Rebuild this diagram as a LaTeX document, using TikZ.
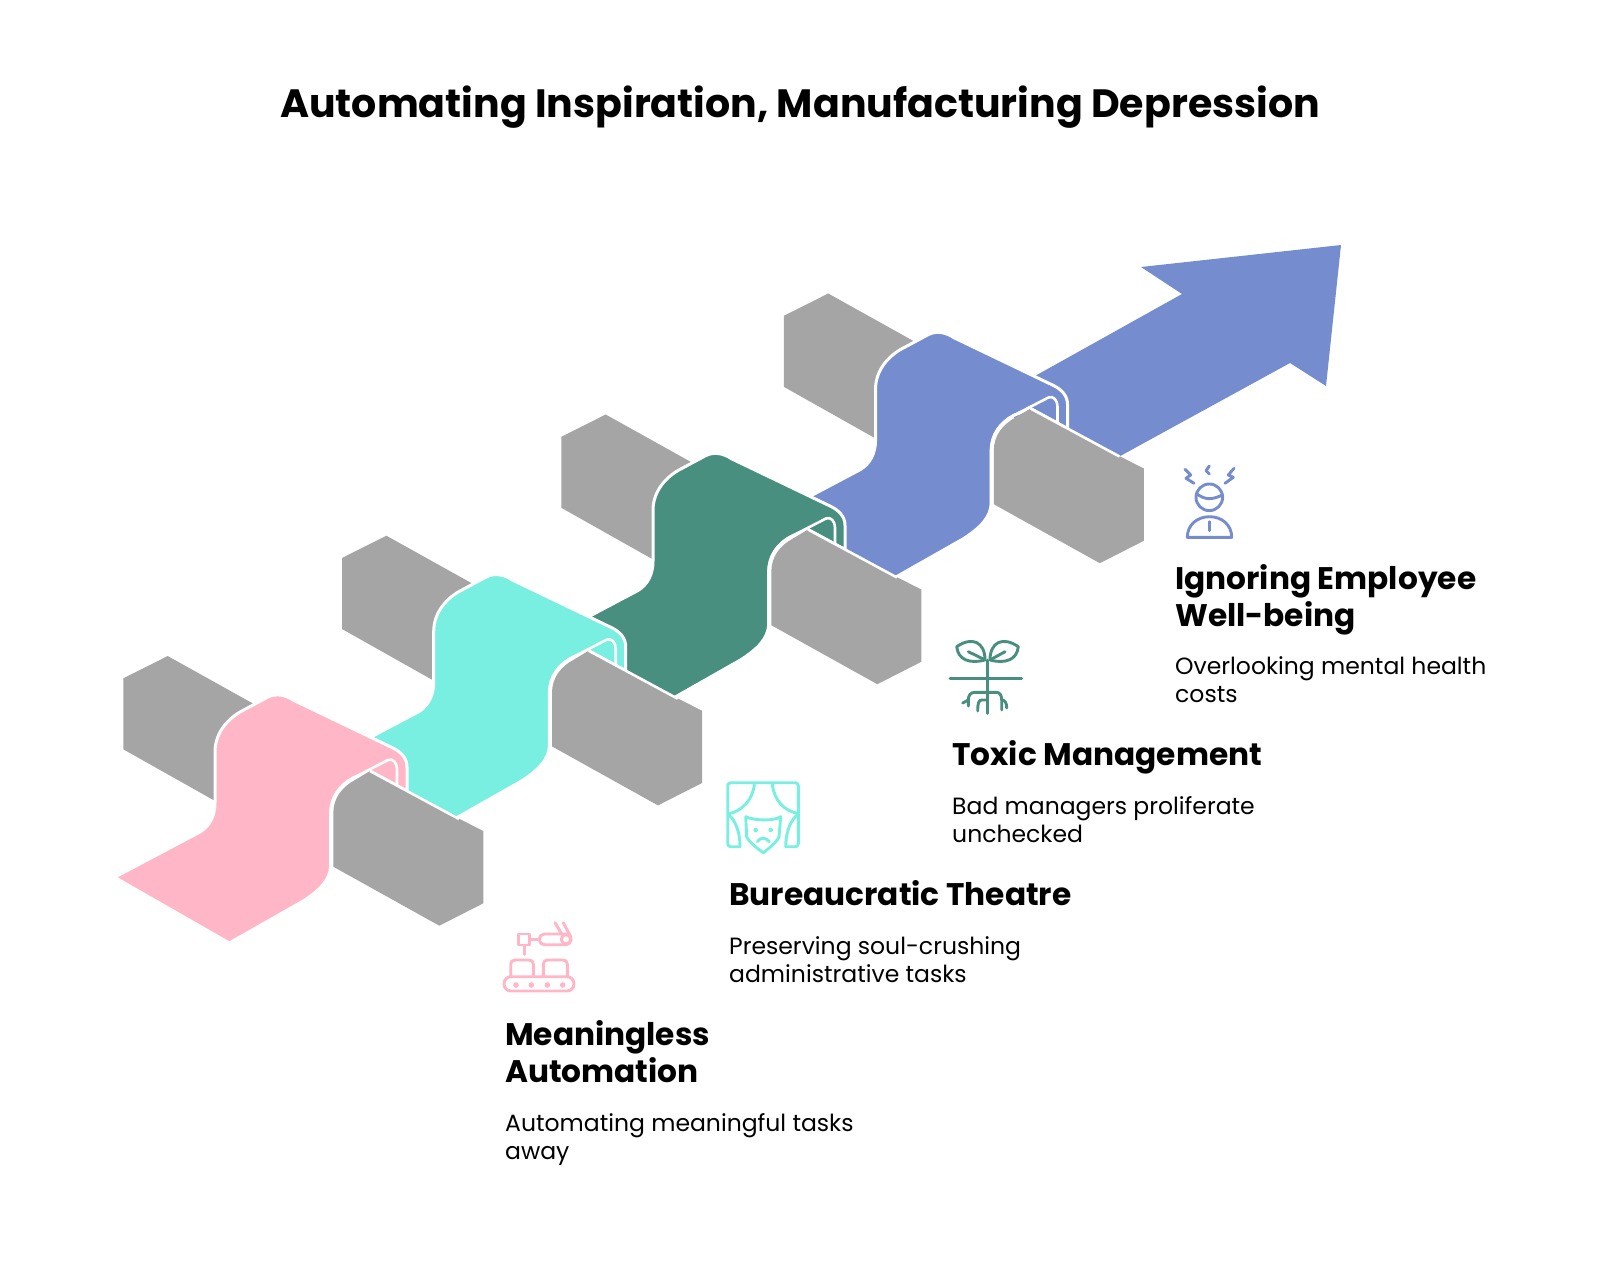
\documentclass[tikz,border=0pt]{standalone}
\usepackage{fontspec}
\setmainfont{Poppins}
\definecolor{ribpink}{HTML}{FFB6C6}
\definecolor{ribaqua}{HTML}{78EFE0}
\definecolor{ribgreen}{HTML}{488F7F}
\definecolor{ribblue}{HTML}{758DCF}
\definecolor{blockgray}{HTML}{A5A5A5}
\tikzset{
  headtext/.style={anchor=north west,inner sep=0pt,align=left,font=\fontsize{31.2}{37}\selectfont\bfseries},
  desctext/.style={anchor=north west,inner sep=0pt,align=left,font=\fontsize{23.5}{28}\selectfont},
  icon/.style={line width=2.9pt,line cap=round,line join=round}
}
\begin{document}
\begin{tikzpicture}[x=1pt,y=-1pt]
\useasboundingbox (0,0) rectangle (1600,1274);
\node[anchor=center,inner sep=0pt,font=\fontsize{39.5}{46}\selectfont\bfseries] (title) at (800,107) {Automating Inspiration, Manufacturing Depression};
% arrow behind the last ribbon
\fill[ribblue] (1341,245) -- (1326,386) -- (1290,363) -- (1060,489) -- (1000,395.5) -- (1182,294) -- (1141,267) -- cycle;
\foreach \colr/\dx/\dy in {ribblue/660.5/-362.5,ribgreen/438/-241.5,ribaqua/218.7/-120.3,ribpink/0/0}{
\begin{scope}[shift={(\dx,\dy)}]
\fill[blockgray] (123.3,678.3) -- (167.7,656) -- (270,713) -- (270,830) -- (240,815) -- (123.3,749.3) -- cycle;
\draw[white,line width=3pt,fill=\colr] (114.5,877.3) -- (229.3,943) -- (303.3,901) .. controls (320,890) and (330,880) .. (330.7,866) -- (330.7,813) .. controls (330.7,797) and (340,785) .. (353,778) -- (370,771) -- (407,791) -- (407,767) .. controls (407,758) and (401,752) .. (393,748) -- (293,700) .. controls (286,695) and (276,693) .. (268,697) -- (240,712) .. controls (225,721) and (215,735) .. (215,752) -- (215,803) .. controls (215,815) and (210,826) .. (200,832) -- cycle;
\draw[white,line width=2.6pt] (330.7,866) -- (330.7,813) .. controls (330.7,797) and (340,785) .. (353,778) -- (388,760) .. controls (393,758) and (397,763) .. (397,769) -- (397,786);
\fill[blockgray] (370,771) -- (458.3,818.3) -- (483.3,831) -- (483.3,903.3) -- (439.3,925.7) -- (333.3,866.7) -- (333.3,813.3) .. controls (333.3,798) and (342,787) .. (355,780) -- cycle;
\draw[white,line width=2.6pt] (370,771) -- (459,819);
\end{scope}
}
% pink icon
\begin{scope}[icon,draw=ribpink]
\draw[rounded corners=7pt] (504,976.7) rectangle (574,991);
\foreach \x in {516,531.3,547.3,562.7}{
\fill[ribpink] (\x,985) circle (2.8);
}
\draw[rounded corners=4pt] (510.7,976.7) -- (510.7,960) -- (533.3,960) -- (533.3,976.7);
\draw[rounded corners=4pt] (543.3,976.7) -- (543.3,960) -- (567.3,960) -- (567.3,976.7);
\draw (518.3,934) rectangle (529.3,945);
\draw (524.3,945) -- (524.3,954.3);
\draw (529.3,939.3) -- (539.3,939.3);
\draw[rounded corners=5pt] (539.3,934) rectangle (571,944.7);
\draw (566,939.3) circle (4.7);
\draw (555,922.7) -- (561.7,934);
\draw (563.3,922.7) -- (570.7,936.7);
\end{scope}
% aqua icon
\begin{scope}[icon,draw=ribaqua]
\draw[rounded corners=3pt] (740,846.7) -- (727.7,846.7) -- (727.7,782.7) -- (798.3,782.7) -- (798.3,846.7) -- (785.7,846.7);
\draw (754.3,784) .. controls (753,800) and (742,811) .. (728.3,814);
\draw (729,815) .. controls (737,822) and (740,835) .. (740,846.7);
\draw (772.3,784) .. controls (774,800) and (784,811) .. (797.7,813.3);
\draw (797,815) .. controls (789,822) and (785.7,835) .. (785.7,846.7);
\draw (745.7,816.7) .. controls (755,821) and (775,821) .. (780.7,816.7) -- (779,837) .. controls (776,843) and (768,849) .. (763.3,852.7) .. controls (758,849) and (750,843) .. (746.7,837) -- cycle;
\fill[ribaqua] (755.7,830) circle (2.3) (770.7,830) circle (2.3);
\draw (757.3,841.7) .. controls (760,837) and (766,837) .. (769.3,841.7);
\end{scope}
% green icon
\begin{scope}[icon,draw=ribgreen]
\draw (950,678.3) -- (1021.7,678.3);
\draw (987.3,660) -- (987.3,713.3);
\draw (956.7,646.7) .. controls (972,636) and (985,642) .. (985,660) .. controls (970,664) and (958,660) .. (956.7,646.7) -- cycle;
\draw (968.3,651.7) -- (983.3,659);
\draw (1018.3,646.7) .. controls (1003,636) and (990,642) .. (990,660) .. controls (1005,664) and (1017,660) .. (1018.3,646.7) -- cycle;
\draw (1005,651.7) -- (991.7,659);
\draw (987.3,692.3) -- (975,692.3) .. controls (970,692.3) and (968.3,696) .. (968.3,700) -- (968.3,706);
\draw (968.3,700) -- (962.7,703);
\draw (987.3,692.3) -- (996.7,692.3) .. controls (1000,692.3) and (1001.7,696) .. (1001.7,700) -- (1001.7,710);
\draw (1001.7,700) .. controls (1005,700) and (1006.7,703) .. (1006.7,708);
\draw (987.3,700) -- (981.7,700) .. controls (978.7,700) and (977.7,703) .. (977.7,711);
\end{scope}
% blue icon
\begin{scope}[icon,draw=ribblue]
\draw (1209.3,497.3) circle (13.3);
\draw (1197,494) .. controls (1205,500) and (1212,500) .. (1222.3,495);
\draw (1187.3,537.3) -- (1231.7,537.3) .. controls (1231.7,525) and (1222,516.7) .. (1209.5,516.7) .. controls (1197,516.7) and (1187.3,525) .. (1187.3,537.3) -- cycle;
\draw (1209.3,521.7) -- (1209.3,530.7);
\draw (1185,469.3) -- (1190.7,475) -- (1186,478.3) -- (1194,483.3);
\draw (1209.3,466) -- (1206,470.7) -- (1209.3,474);
\draw (1234,468.3) -- (1228.3,475) -- (1233.3,477.3) -- (1225,483.3);
\end{scope}
% labels
\node[headtext] (meaningless) at (505,1020) {Meaningless\\Automation};
\node[desctext] (meaninglessdesc) at (505,1113) {Automating meaningful tasks\\away};
\node[headtext] (bureaucratic) at (729,880) {Bureaucratic Theatre};
\node[desctext] (bureaucraticdesc) at (729,936) {Preserving soul-crushing\\administrative tasks};
\node[headtext] (toxic) at (952,740) {Toxic Management};
\node[desctext] (toxicdesc) at (952,796) {Bad managers proliferate\\unchecked};
\node[headtext] (ignoring) at (1175,564) {Ignoring Employee\\Well-being};
\node[desctext] (ignoringdesc) at (1175,656) {Overlooking mental health\\costs};
\end{tikzpicture}
\end{document}
